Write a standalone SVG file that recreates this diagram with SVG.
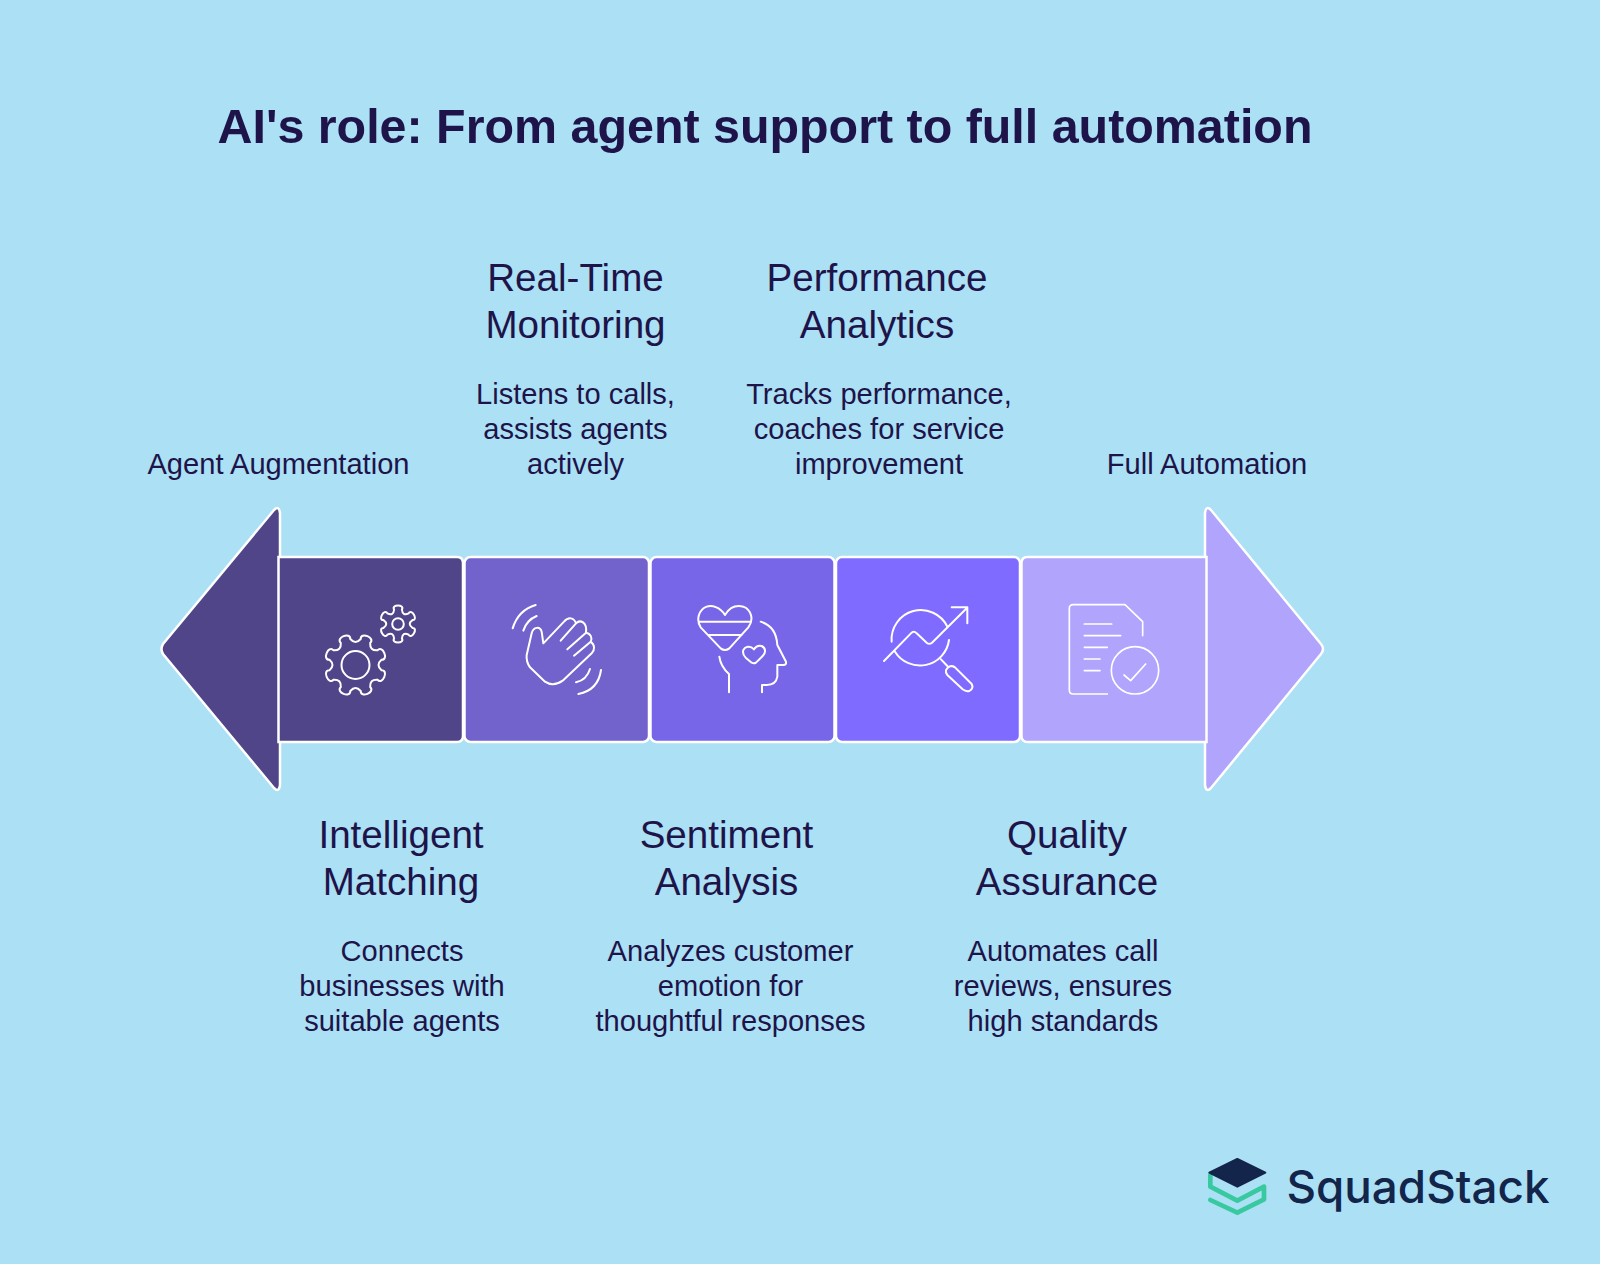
<svg xmlns="http://www.w3.org/2000/svg" width="1600" height="1264" viewBox="0 0 1600 1264">
<style>
text{font-family:"Liberation Sans",Arial,sans-serif;fill:#1e1449;text-anchor:middle}
.t{font-size:48.400px;font-weight:700}
.h{font-size:38.600px}
.b{font-size:29.100px}
.s{fill:none;stroke:#fff;stroke-width:2}
.i{fill:none;stroke:#fff;stroke-width:6;stroke-linecap:round;stroke-linejoin:round}
.e{stroke:#fff;stroke-width:2.500}
</style>
<rect id="background" width="1600" height="1264" fill="#abe0f5"/>
<text class="t" x="765" y="143">AI's role: From agent support to full automation</text>
<g id="connectors"></g>
<g id="arrow-left">
<path class="e" d="M280,513 Q279,505 274,510 L163,644 Q160,649 163,654 L274,788 Q279,793 280,785 Z" fill="#514589"/>
<text class="b" x="278.500" y="473.700">Agent Augmentation</text>
</g>
<g id="arrow-right">
<path class="e" d="M1205,513 Q1206,505 1211,510 L1321,644 Q1325,649 1321,654 L1211,788 Q1206,793 1205,785 Z" fill="#b0a4fd"/>
<text class="b" x="1207" y="473.700">Full Automation</text>
</g>
<g id="node-intelligent-matching">
<path class="e" d="M278.500,557 H457 Q463,557 463,563 V736 Q463,742 457,742 H278.500 Z" fill="#514589"/>
<g transform="translate(355.500,665)"><path class="s" d="M26,-5.200 Q20,0 26,5.200 C33.600,5 27.300,20.200 22,14.700 Q14.100,14.100 14.700,22 C20.200,27.300 5,33.600 5.200,26 Q0,20 -5.200,26 C-5,33.600 -20.200,27.300 -14.700,22 Q-14.100,14.100 -22,14.700 C-27.300,20.200 -33.600,5 -26,5.200 Q-20,0 -26,-5.200 C-33.600,-5 -27.300,-20.200 -22,-14.700 Q-14.100,-14.100 -14.700,-22 C-20.200,-27.300 -5,-33.600 -5.200,-26 Q0,-20 5.200,-26 C5,-33.600 20.200,-27.300 14.700,-22 Q14.100,-14.100 22,-14.700 C27.300,-20.200 33.600,-5 26,-5.200 Z"/><circle class="s" r="14"/></g>
<g transform="translate(398,624)"><path class="s" d="M14.500,-3.900 Q9,0 14.500,3.900 C20.700,3.600 13.500,16.100 10.600,10.600 Q4.500,7.800 3.900,14.500 C7.200,19.700 -7.200,19.700 -3.900,14.500 Q-4.500,7.800 -10.600,10.600 C-13.500,16.100 -20.700,3.600 -14.500,3.900 Q-9,0 -14.500,-3.900 C-20.700,-3.600 -13.500,-16.100 -10.600,-10.600 Q-4.500,-7.800 -3.900,-14.500 C-7.200,-19.700 7.200,-19.700 3.900,-14.500 Q4.500,-7.800 10.600,-10.600 C13.500,-16.100 20.700,-3.600 14.500,-3.900 Z"/><circle class="s" r="5.800"/></g>
<text class="h" x="401" y="848">Intelligent</text>
<text class="h" x="401" y="894.600">Matching</text>
<text class="b" x="402" y="960.700">Connects</text>
<text class="b" x="402" y="995.700">businesses with</text>
<text class="b" x="402" y="1030.700">suitable agents</text>
</g>
<g id="node-real-time-monitoring">
<rect class="e" x="464.500" y="557" width="184.500" height="185" rx="6" fill="#7262cb"/>
<g transform="translate(490,590) scale(.33333)"><path class="i" d="M160,160 L222,95 C235,80 252,82 258,100 C270,88 292,95 288,128 C302,130 308,145 302,155 C315,165 315,180 305,190 L218,272 Q190,292 165,275 L120,232 Q108,215 110,195 L125,130 C130,110 150,108 155,125 Z M212,152 L258,100 M232,178 L288,128 M252,197 L302,155 M68,115 Q85,60 137,45 M100,122 Q110,90 140,78 M265,312 Q325,300 333,240 M258,277 Q290,270 300,237"/></g>
<text class="h" x="575.500" y="291">Real-Time</text>
<text class="h" x="575.500" y="337.600">Monitoring</text>
<text class="b" x="575.500" y="403.700">Listens to calls,</text>
<text class="b" x="575.500" y="438.700">assists agents</text>
<text class="b" x="575.500" y="473.700">actively</text>
</g>
<g id="node-sentiment-analysis">
<rect class="e" x="650.500" y="557" width="184" height="185" rx="6" fill="#7866e8"/>
<g transform="translate(680,590) scale(.33333)"><path class="i" d="M135,75 C120,50 95,45 80,50 C55,60 48,90 62,112 L122,175 Q135,185 148,175 L205,112 C222,90 215,60 190,50 C170,45 150,50 135,75 Z M58,95 L213,95 M88,135 L185,135 M222,178 C210,165 195,170 190,180 C187,190 192,198 197,203 L215,218 Q222,222 228,218 L248,198 C258,188 258,175 245,168 C235,165 227,170 222,178 Z M242,95 C275,105 290,130 292,165 L318,215 Q320,225 310,225 L292,225 L292,260 Q288,285 260,285 L246,285 L246,307 M118,200 Q122,230 147,252 L147,307"/></g>
<text class="h" x="726.500" y="848">Sentiment</text>
<text class="h" x="726.500" y="894.600">Analysis</text>
<text class="b" x="730.500" y="960.700">Analyzes customer</text>
<text class="b" x="730.500" y="995.700">emotion for</text>
<text class="b" x="730.500" y="1030.700">thoughtful responses</text>
</g>
<g id="node-performance-analytics">
<rect class="e" x="836" y="557" width="184" height="185" rx="6" fill="#7f6bff"/>
<g transform="translate(870,590) scale(.33333)"><path class="i" d="M65,155 A88,88 0 0 1 232,110 M237,150 A88,88 0 0 1 75,185 M42,213 L125,128 Q132,122 140,130 L170,158 Q178,165 186,158 L290,55 M245,52 L292,52 L292,100 M213,208 L232,228 M228,240 Q240,222 255,232 L305,282 Q312,295 298,303 Q288,306 278,298 L232,255 Q226,248 228,240 Z"/></g>
<text class="h" x="877" y="291">Performance</text>
<text class="h" x="877" y="337.600">Analytics</text>
<text class="b" x="879" y="403.700">Tracks performance,</text>
<text class="b" x="879" y="438.700">coaches for service</text>
<text class="b" x="879" y="473.700">improvement</text>
</g>
<g id="node-quality-assurance">
<path class="e" d="M1206.500,557 H1027.500 Q1021.500,557 1021.500,563 V736 Q1021.500,742 1027.500,742 H1206.500 Z" fill="#b0a4fd"/>
<g transform="translate(1050,590) scale(.33333)"><path class="i" style="stroke-width:5" d="M172,312 L70,312 Q58,312 58,300 L58,55 Q58,44 70,44 L225,44 L278,95 L278,137 M103,102 L185,102 M103,137 L212,137 M103,172 L172,172 M103,207 L150,207 M103,242 L150,242 M222,255 L242,272 L287,222"/><circle class="i" style="stroke-width:5" cx="255" cy="241" r="71"/></g>
<text class="h" x="1067" y="848">Quality</text>
<text class="h" x="1067" y="894.600">Assurance</text>
<text class="b" x="1063" y="960.700">Automates call</text>
<text class="b" x="1063" y="995.700">reviews, ensures</text>
<text class="b" x="1063" y="1030.700">high standards</text>
</g>
<g id="logo">
<g transform="translate(1180,1130) scale(.33333)">
<path d="M91,135 L91,170 L172,212 L252,170 L252,208 L172,248 L91,210" fill="none" stroke="#38c9a0" stroke-width="14" stroke-linejoin="round" stroke-linecap="round"/>
<path d="M172,87 L256,128 L172,170 L88,128 Z" fill="#13254a" stroke="#13254a" stroke-width="6" stroke-linejoin="round"/>
</g>
<text x="1418" y="1202.500" style="font-family:Inter,sans-serif;font-size:45.800px;font-weight:550;fill:#13254a">SquadStack</text>
</g>
</svg>
